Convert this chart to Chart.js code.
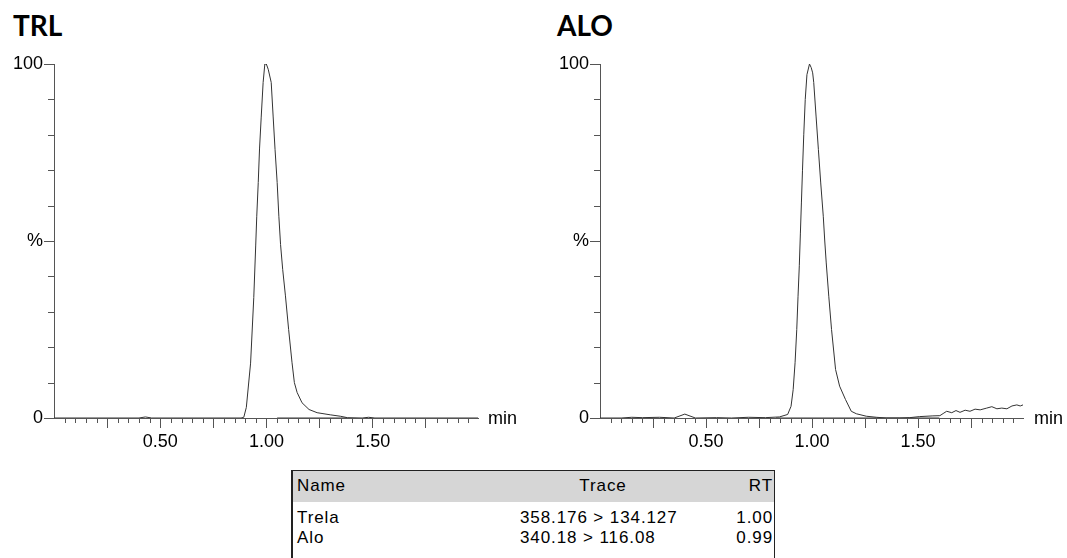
<!DOCTYPE html>
<html>
<head>
<meta charset="utf-8">
<script src="https://cdn.jsdelivr.net/npm/chart.js@4.4.1/dist/chart.umd.min.js"></script>
<style>
  body { margin: 0; background: #fff; font-family: "Liberation Sans", Arial, sans-serif; color: #000; }
  #page { position: relative; width: 1067px; height: 558px; overflow: hidden; }
  canvas { position: absolute; top: 0; }
  .title { position: absolute; top: 11px; font-family: Lato, sans-serif; font-weight: bold; font-size: 28px; line-height: 1; }
  .unit { position: absolute; top: 408px; font-size: 18px; line-height: 20px; }
  #tbl { position: absolute; left: 291px; top: 470px; width: 481px; height: 120px;
         border-top: 1px solid #222; border-left: 2px solid #222; border-right: 1px solid #222; }
  #tbl .head { position: absolute; left: 0; top: 0; width: 100%; height: 31px; background: #d6d6d6; }
  #tbl .cell { position: absolute; font-size: 17px; line-height: 20px; letter-spacing: 0.9px; white-space: nowrap; }
</style>
</head>
<body>
<div id="page">
  <div class="title" style="left:13px">TRL</div>
  <div class="title" style="left:557px">ALO</div>
  <canvas id="trlChart" width="540" height="460" style="left:0"></canvas>
  <canvas id="aloChart" width="527" height="460" style="left:540px"></canvas>
  <div class="unit" style="left:488px">min</div>
  <div class="unit" style="left:1034px">min</div>
  <div id="tbl"><div class="head"></div></div>
</div>
<script>
// retention time (min) and relative intensity (%) for each trace
const trlTime = [0.00, 0.40, 0.43, 0.46, 0.88, 0.893, 0.905, 0.925, 0.94, 0.949, 0.954, 0.961, 0.967, 0.975, 0.984,
  0.992, 0.999, 1.008, 1.022, 1.031, 1.040, 1.050, 1.058, 1.066, 1.076, 1.089, 1.104, 1.120, 1.131, 1.144,
  1.167, 1.200, 1.238, 1.300, 1.347, 1.38, 1.45, 1.48, 1.51, 1.995];
const trlPct = [0, 0, 0.3, 0, 0, 0.2, 3, 15.5, 34, 48.6, 57, 66.5, 76, 85, 94.8,
  100, 100, 98.5, 94.8, 85.3, 75.9, 66.5, 57, 49, 42, 34.5, 25, 15.6, 10, 7.2,
  4.3, 2.4, 1.5, 0.9, 0.5, 0.1, 0, 0.2, 0, 0];

const aloTime = [0.00, 0.10, 0.15, 0.20, 0.28, 0.35, 0.40, 0.45, 0.55, 0.62, 0.70, 0.78, 0.846, 0.885, 0.901,
  0.911, 0.920, 0.928, 0.934, 0.940, 0.945, 0.950, 0.955, 0.961, 0.968, 0.976, 0.988, 0.996, 1.003,
  1.008, 1.019, 1.030, 1.041, 1.053, 1.060, 1.067, 1.079, 1.092, 1.111, 1.130, 1.158, 1.185, 1.209,
  1.256, 1.304, 1.35, 1.414, 1.461, 1.508, 1.57, 1.603, 1.622, 1.635, 1.659, 1.679, 1.698, 1.722, 1.745,
  1.769, 1.793, 1.824, 1.848, 1.872, 1.895, 1.919, 1.943, 1.966, 1.982, 1.995];
const aloPct = [0, 0, 0.2, 0.1, 0.2, 0, 1.1, 0, 0.1, 0, 0.2, 0.1, 0.3, 1, 3.3,
  8, 15.6, 25, 34.4, 43, 52, 61, 70, 80, 90, 97, 100, 99, 97.5,
  94.8, 85.3, 75.8, 66.4, 57, 50, 43.8, 34.4, 25, 13.7, 9, 5.2, 1.9, 1.2,
  0.5, 0.2, 0, 0, 0.1, 0.4, 0.6, 0.66, 1.4, 1.9, 1.5, 2.1, 1.6, 2.2, 1.9,
  2.5, 2.3, 2.8, 3.2, 2.6, 2.8, 2.6, 3.4, 3.7, 3.4, 3.7];

// integration baselines (start, end in min)
const trlBaseline = [1.05, 1.38];
const aloBaseline = [0.83, 1.60];

// axis labels
const xTickValues = [0.5, 1.0, 1.5];
const xTickLabels = ['0.50', '1.00', '1.50'];
const yTickValues = [0, 50, 100];
const yTickLabels = ['0', '%', '100'];

// peak table
const compoundNames = ['Trela', 'Alo'];
const traceNames = ['358.176 > 134.127', '340.18 > 116.08'];
const retTimes = ['1.00', '0.99'];

const axisColor = '#555';
const traceColor = '#333';

Chart.defaults.font.family = '"Liberation Sans", Arial, sans-serif';
Chart.defaults.font.size = 18;
Chart.defaults.color = '#000';

const hundredths = v => Math.round(v * 100);
const isMajorX = v => hundredths(v) > 0 && hundredths(v) % 25 === 0;

// short ticks between the labelled ones
const minorTicks = {
  id: 'minorTicks',
  afterDraw(chart) {
    const { ctx, scales: { x, y } } = chart;
    ctx.save();
    ctx.strokeStyle = axisColor;
    ctx.lineWidth = 1;
    ctx.beginPath();
    x.ticks.forEach(t => {
      if (hundredths(t.value) === 0 || isMajorX(t.value)) return;
      const px = Math.round(x.getPixelForValue(t.value)) + 0.5;
      ctx.moveTo(px, x.top);
      ctx.lineTo(px, x.top + 5);
    });
    y.ticks.forEach(t => {
      if (yTickValues.includes(t.value)) return;
      const py = Math.round(y.getPixelForValue(t.value)) + 0.5;
      ctx.moveTo(y.right - 6, py);
      ctx.lineTo(y.right, py);
    });
    ctx.stroke();
    ctx.restore();
  }
};

function makeChart(id, time, pct, baseline, yWidth, padRight) {
  return new Chart(document.getElementById(id), {
    type: 'line',
    data: {
      datasets: [
        {
          data: time.map((t, i) => ({ x: t, y: pct[i] })),
          borderColor: traceColor,
          borderWidth: 1,
          pointRadius: 0,
          tension: 0
        },
        {
          data: baseline.map(t => ({ x: t, y: 0 })),
          borderColor: '#9a9a9a',
          borderWidth: 2,
          pointRadius: 0
        }
      ]
    },
    options: {
      responsive: false,
      animation: false,
      layout: { padding: { top: 64, right: padRight, bottom: 0, left: 0 } },
      plugins: { legend: { display: false }, tooltip: { enabled: false } },
      scales: {
        x: {
          type: 'linear',
          min: 0,
          max: 1.995,
          afterFit: s => { s.height = 42; },
          border: { color: axisColor },
          grid: {
            drawOnChartArea: false,
            tickLength: 10,
            tickColor: c => isMajorX(c.tick.value) ? axisColor : 'rgba(0,0,0,0)'
          },
          ticks: {
            stepSize: 0.05,
            includeBounds: false,
            autoSkip: false,
            maxRotation: 0,
            maxTicksLimit: 100,
            padding: 3,
            callback: v => {
              const i = xTickValues.findIndex(x => hundredths(x) === hundredths(v));
              return i >= 0 ? xTickLabels[i] : '';
            }
          }
        },
        y: {
          min: 0,
          max: 100,
          afterFit: s => { s.width = yWidth; },
          border: { color: axisColor },
          grid: {
            drawOnChartArea: false,
            tickLength: 10,
            tickColor: c => yTickValues.includes(c.tick.value) ? axisColor : 'rgba(0,0,0,0)'
          },
          ticks: {
            stepSize: 10,
            autoSkip: false,
            padding: 1,
            callback: v => {
              const i = yTickValues.indexOf(v);
              return i >= 0 ? yTickLabels[i] : '';
            }
          }
        }
      }
    },
    plugins: [minorTicks]
  });
}

makeChart('trlChart', trlTime, trlPct, trlBaseline, 54, 62);
makeChart('aloChart', aloTime, aloPct, aloBaseline, 60, 44);

// peak table
const tbl = document.getElementById('tbl');
function cell(text, top, style) {
  const d = document.createElement('div');
  d.className = 'cell';
  d.textContent = text;
  d.style.top = top + 'px';
  Object.assign(d.style, style);
  tbl.appendChild(d);
}
cell('Name', 5, { left: '4px' });
cell('Trace', 5, { left: '260px', width: '100px', textAlign: 'center' });
cell('RT', 5, { right: '1px' });
compoundNames.forEach((n, i) => {
  const top = 37 + i * 20;
  cell(n, top, { left: '4px' });
  cell(traceNames[i], top, { left: '227px' });
  cell(retTimes[i], top, { right: '1px' });
});
</script>
</body>
</html>
